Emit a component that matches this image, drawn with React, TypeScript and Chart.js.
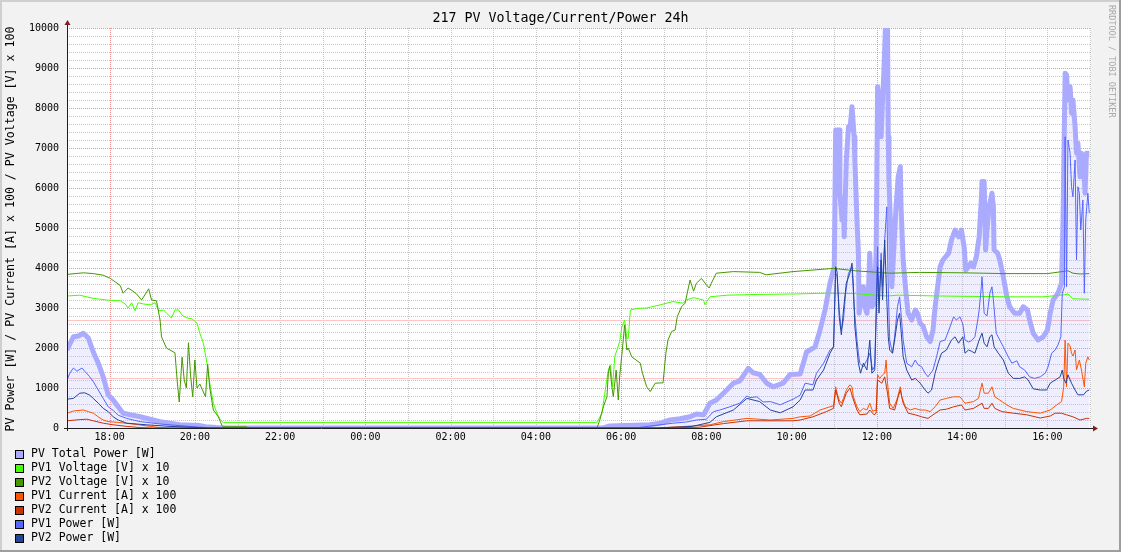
import { useEffect, useRef } from "react";
import { Chart, registerables } from "chart.js";

Chart.register(...registerables);

// ---------------- text ----------------
const TITLE = "217 PV Voltage/Current/Power 24h";
const Y_TITLE = "PV Power [W] / PV Current [A] x 100 / PV Voltage [V] x 100";
const WATERMARK = "RRDTOOL / TOBI OETIKER";

// ---------------- axes ----------------
const X_START_HOUR = 17; // 24h window 17:00 -> 17:00
const X_END_HOUR = 41;
const X_MAJOR_EVERY = 6;
const Y_MIN = 0;
const Y_MAX = 10000;
const Y_MINOR_STEP = 200;
const Y_MAJOR_STEP = 1000;
const HRULES = [2700, 1250];

// ---------------- data (clock time, value) ----------------
const pvTotalPower: [string, number][] = [
  ["17:00", 1950], ["17:04", 2100], ["17:09", 2280], ["17:16", 2300], ["17:23", 2370], ["17:30", 2250],
  ["17:37", 1900], ["17:44", 1620], ["17:51", 1280], ["17:58", 830], ["18:05", 700], ["18:12", 530],
  ["18:19", 370], ["18:29", 330], ["18:43", 280], ["18:57", 220], ["19:11", 160], ["19:25", 120],
  ["19:39", 80], ["20:07", 60], ["20:15", 30], ["20:30", 10], ["20:45", 0],
  ["05:35", 0], ["05:44", 50], ["06:40", 80], ["06:55", 120], ["07:09", 200], ["07:23", 230], ["07:37", 280],
  ["07:46", 350], ["07:56", 330], ["08:05", 620], ["08:14", 700], ["08:24", 870], ["08:38", 1120],
  ["08:47", 1180], ["08:59", 1490], ["09:06", 1380], ["09:15", 1340], ["09:25", 1120], ["09:34", 1030],
  ["09:48", 1120], ["09:58", 1340], ["10:12", 1350], ["10:21", 1900], ["10:33", 2030], ["10:40", 2450],
  ["10:47", 2950], ["10:54", 3620], ["11:00", 4030], ["11:02", 7450], ["11:07", 7450], ["11:08", 5870],
  ["11:11", 5200], ["11:13", 5700], ["11:14", 4780], ["11:17", 6700], ["11:20", 7530], ["11:22", 7450],
  ["11:25", 8030], ["11:26", 8030], ["11:28", 7280], ["11:29", 6700], ["11:32", 5200], ["11:34", 4370],
  ["11:35", 2870], ["11:38", 3280], ["11:41", 3530], ["11:43", 3030], ["11:46", 2870], ["11:48", 3370],
  ["11:50", 4370], ["11:53", 3030], ["11:56", 3100], ["11:59", 4370], ["12:01", 8530], ["12:03", 8200],
  ["12:06", 7280], ["12:08", 8200], ["12:10", 8950], ["12:12", 10000], ["12:15", 10000], ["12:16", 7280],
  ["12:17", 6200], ["12:19", 5200], ["12:21", 3530], ["12:23", 4200], ["12:27", 5530], ["12:30", 6280],
  ["12:33", 6530], ["12:34", 5530], ["12:37", 4200], ["12:41", 3370], ["12:44", 2870], ["12:49", 2700],
  ["12:54", 2950], ["12:57", 2870], ["13:01", 2620], ["13:05", 2550], ["13:10", 2280], ["13:15", 2160],
  ["13:19", 2450], ["13:22", 3030], ["13:29", 4030], ["13:33", 4200], ["13:41", 4370], ["13:45", 4700],
  ["13:50", 4950], ["13:55", 4780], ["13:59", 4950], ["14:03", 4500], ["14:05", 3950], ["14:09", 4030],
  ["14:12", 4120], ["14:16", 4030], ["14:20", 4280], ["14:24", 4780], ["14:27", 5700], ["14:28", 6160],
  ["14:31", 6160], ["14:33", 4450], ["14:35", 4950], ["14:38", 5530], ["14:42", 5870], ["14:44", 5530],
  ["14:45", 4450], ["14:50", 4370], ["14:53", 4200], ["14:58", 3780], ["15:03", 3280], ["15:07", 3030],
  ["15:14", 2870], ["15:21", 2870], ["15:26", 3030], ["15:32", 2950], ["15:35", 2700], ["15:40", 2370],
  ["15:47", 2200], ["15:54", 2280], ["16:00", 2450], ["16:04", 2870], ["16:08", 3200], ["16:15", 3370],
  ["16:20", 3620], ["16:22", 5200], ["16:25", 8870], ["16:27", 8830], ["16:29", 8200], ["16:32", 8530],
  ["16:34", 7870], ["16:36", 8200], ["16:39", 7530], ["16:41", 6870], ["16:43", 7120], ["16:46", 6280],
  ["16:48", 6870], ["16:51", 6700], ["16:53", 5870], ["16:55", 6870], ["16:59", 6870],
];

const pv1Voltage: [string, number][] = [
  ["17:00", 3300], ["17:18", 3320], ["17:37", 3240], ["17:56", 3200], ["18:15", 3180], ["18:22", 3100],
  ["18:26", 3000], ["18:31", 3130], ["18:36", 2930], ["18:40", 3130], ["18:48", 3100], ["18:57", 3080],
  ["19:04", 3130], ["19:09", 2930], ["19:16", 2950], ["19:20", 2870], ["19:27", 2750], ["19:32", 2950],
  ["19:37", 2950], ["19:42", 2820], ["19:49", 2750], ["19:56", 2730], ["20:03", 2620], ["20:07", 2370],
  ["20:12", 2120], ["20:17", 1620], ["20:21", 1120], ["20:26", 620], ["20:31", 370], ["20:36", 200],
  ["20:40", 140], ["05:26", 140], ["05:33", 370], ["05:37", 870], ["05:42", 1450], ["05:45", 1580],
  ["05:48", 1030], ["05:51", 1780], ["05:58", 2160], ["06:01", 2530], ["06:05", 2700], ["06:08", 2240],
  ["06:10", 2240], ["06:13", 2950], ["06:22", 2990], ["06:36", 3000], ["06:55", 3080], ["07:13", 3160],
  ["07:27", 3120], ["07:32", 3200], ["07:42", 3260], ["07:56", 3200], ["07:58", 3080], ["08:05", 3280],
  ["08:29", 3320], ["09:15", 3340], ["10:02", 3350], ["10:49", 3370], ["11:30", 3360], ["12:14", 3300],
  ["12:30", 3320], ["13:29", 3300], ["14:16", 3290], ["15:05", 3280], ["15:54", 3280], ["16:24", 3330],
  ["16:29", 3350], ["16:36", 3230], ["16:59", 3220],
];

const pv2Voltage: [string, number][] = [
  ["17:00", 3840], ["17:23", 3880], ["17:37", 3860], ["17:51", 3820], ["18:01", 3740], ["18:08", 3650],
  ["18:15", 3560], ["18:19", 3370], ["18:26", 3500], ["18:33", 3420], ["18:38", 3350], ["18:45", 3200],
  ["18:55", 3480], ["18:59", 3200], ["19:06", 3180], ["19:11", 2700], ["19:13", 2280], ["19:20", 2000],
  ["19:32", 1880], ["19:35", 1200], ["19:38", 650], ["19:42", 1770], ["19:45", 1200], ["19:48", 1000],
  ["19:51", 2130], ["19:54", 1300], ["19:57", 780], ["20:00", 1700], ["20:03", 1000], ["20:07", 1100],
  ["20:12", 900], ["20:15", 780], ["20:18", 1600], ["20:21", 1000], ["20:26", 450], ["20:33", 280],
  ["20:38", 70], ["20:40", 30], ["21:13", 30], ["21:14", 0],
  ["05:26", 0], ["05:30", 200], ["05:35", 530], ["05:40", 780], ["05:42", 1370], ["05:44", 1550],
  ["05:47", 1030], ["05:49", 780], ["05:53", 1450], ["05:56", 700], ["05:58", 1300], ["06:01", 1830],
  ["06:05", 2580], ["06:08", 1950], ["06:10", 2000], ["06:15", 1780], ["06:27", 1620], ["06:30", 1370],
  ["06:36", 1030], ["06:41", 910], ["06:48", 1120], ["06:59", 1130], ["07:03", 1870], ["07:06", 2200],
  ["07:11", 2410], ["07:16", 2450], ["07:19", 2780], ["07:25", 3030], ["07:30", 3120], ["07:34", 3450],
  ["07:37", 3700], ["07:42", 3420], ["07:46", 3620], ["07:53", 3740], ["08:00", 3580], ["08:04", 3500],
  ["08:07", 3620], ["08:14", 3870], ["08:38", 3910], ["09:15", 3890], ["09:24", 3830], ["10:02", 3910],
  ["10:59", 3990], ["11:30", 3930], ["12:18", 3870], ["13:00", 3890], ["14:00", 3880], ["15:00", 3860],
  ["16:00", 3860], ["16:29", 3930], ["16:36", 3870], ["16:46", 3850], ["16:59", 3860],
];

const pv1Current: [string, number][] = [
  ["17:00", 370], ["17:09", 425], ["17:23", 450], ["17:30", 410], ["17:37", 370], ["17:44", 280],
  ["17:51", 200], ["17:58", 160], ["18:12", 140], ["18:33", 100], ["18:57", 40], ["19:11", 10], ["19:30", 0],
  ["06:50", 0], ["07:30", 40], ["08:05", 80], ["08:24", 160], ["08:57", 240], ["09:30", 200], ["10:02", 240],
  ["10:12", 280], ["10:26", 300], ["10:40", 450], ["10:54", 530], ["10:59", 560], ["11:02", 1030],
  ["11:04", 870], ["11:07", 700], ["11:10", 620], ["11:13", 740], ["11:17", 950], ["11:22", 1080],
  ["11:25", 1030], ["11:27", 780], ["11:32", 530], ["11:36", 410], ["11:41", 490], ["11:46", 450],
  ["11:50", 620], ["11:54", 420], ["11:59", 450], ["12:01", 1330], ["12:04", 1240], ["12:08", 1330],
  ["12:11", 1370], ["12:13", 1700], ["12:15", 1120], ["12:18", 620], ["12:23", 490], ["12:28", 700],
  ["12:33", 1030], ["12:35", 780], ["12:40", 530], ["12:47", 450], ["12:54", 490], ["13:01", 450],
  ["13:08", 450], ["13:15", 410], ["13:22", 530], ["13:29", 700], ["13:38", 740], ["13:48", 780],
  ["13:57", 780], ["14:04", 620], ["14:16", 660], ["14:23", 740], ["14:28", 1120], ["14:31", 870],
  ["14:37", 870], ["14:42", 1030], ["14:46", 780], ["14:53", 700], ["15:03", 575], ["15:12", 490],
  ["15:31", 410], ["15:50", 370], ["16:04", 450], ["16:13", 575], ["16:20", 660], ["16:23", 1030],
  ["16:25", 2200], ["16:27", 1030], ["16:29", 2120], ["16:32", 2050], ["16:34", 1870], ["16:36", 1800],
  ["16:39", 1950], ["16:41", 1450], ["16:45", 1700], ["16:48", 1450], ["16:52", 1030], ["16:54", 1620],
  ["16:57", 1780], ["16:59", 1700],
];

const pv2Current: [string, number][] = [
  ["17:00", 180], ["17:18", 210], ["17:28", 220], ["17:37", 180], ["17:51", 120], ["18:05", 80],
  ["18:24", 40], ["18:43", 10], ["19:00", 0],
  ["07:00", 0], ["07:50", 20], ["08:24", 110], ["08:57", 180], ["10:02", 180], ["10:12", 200], ["10:30", 280],
  ["10:49", 410], ["10:59", 490], ["11:02", 950], ["11:07", 620], ["11:10", 530], ["11:17", 870],
  ["11:22", 1000], ["11:27", 700], ["11:32", 450], ["11:36", 330], ["11:46", 350], ["11:50", 450],
  ["11:56", 330], ["11:59", 370], ["12:01", 1200], ["12:07", 1120], ["12:11", 1280], ["12:15", 870],
  ["12:18", 490], ["12:25", 450], ["12:30", 780], ["12:33", 950], ["12:37", 620], ["12:44", 370],
  ["12:54", 330], ["13:03", 280], ["13:12", 240], ["13:19", 330], ["13:29", 450], ["13:38", 470],
  ["13:48", 530], ["13:59", 575], ["14:04", 450], ["14:16", 490], ["14:28", 620], ["14:31", 490],
  ["14:37", 490], ["14:42", 620], ["14:46", 490], ["14:56", 410], ["15:12", 370], ["15:31", 330],
  ["15:50", 250], ["16:04", 300], ["16:11", 370], ["16:20", 370], ["16:27", 330], ["16:36", 280],
  ["16:46", 200], ["16:55", 240], ["16:59", 240],
];

const pv1Power: [string, number][] = [
  ["17:00", 1200], ["17:04", 1370], ["17:09", 1500], ["17:14", 1420], ["17:21", 1500], ["17:25", 1420],
  ["17:32", 1280], ["17:37", 1160], ["17:44", 950], ["17:51", 740], ["17:58", 530], ["18:05", 440],
  ["18:12", 320], ["18:24", 240], ["18:43", 160], ["19:11", 100], ["19:39", 60], ["20:07", 20], ["20:30", 0],
  ["06:20", 0], ["06:55", 80], ["07:13", 120], ["07:32", 150], ["07:46", 200], ["08:00", 220], ["08:10", 410],
  ["08:19", 450], ["08:33", 530], ["08:47", 620], ["08:57", 800], ["09:01", 760], ["09:11", 780],
  ["09:20", 650], ["09:30", 660], ["09:44", 580], ["10:02", 720], ["10:12", 820], ["10:19", 1120],
  ["10:30", 1080], ["10:35", 1370], ["10:45", 1620], ["10:54", 1950], ["10:59", 2030], ["11:02", 3870],
  ["11:04", 3800], ["11:07", 2950], ["11:10", 2450], ["11:13", 2700], ["11:16", 3370], ["11:20", 3870],
  ["11:23", 3950], ["11:25", 4030], ["11:28", 3030], ["11:32", 2200], ["11:34", 1870], ["11:36", 1620],
  ["11:41", 1530], ["11:46", 1700], ["11:50", 1870], ["11:54", 1450], ["11:57", 1550], ["12:01", 4530],
  ["12:03", 3200], ["12:06", 4370], ["12:08", 3530], ["12:11", 4700], ["12:14", 5530], ["12:16", 3530],
  ["12:18", 2200], ["12:22", 1870], ["12:25", 2280], ["12:29", 3030], ["12:32", 3280], ["12:34", 2870],
  ["12:37", 2200], ["12:42", 1620], ["12:49", 1530], ["12:54", 1700], ["12:58", 1580], ["13:03", 1530],
  ["13:08", 1370], ["13:12", 1280], ["13:19", 1450], ["13:24", 1780], ["13:29", 2160], ["13:36", 2200],
  ["13:43", 2530], ["13:48", 2780], ["13:52", 2700], ["13:57", 2780], ["14:01", 2600], ["14:04", 2200],
  ["14:09", 2150], ["14:13", 2180], ["14:18", 2280], ["14:22", 2700], ["14:24", 2950], ["14:27", 3530],
  ["14:28", 3780], ["14:31", 2870], ["14:35", 2800], ["14:39", 3370], ["14:42", 3530], ["14:44", 3200],
  ["14:48", 2370], ["14:53", 2200], ["14:58", 2030], ["15:05", 1780], ["15:10", 1620], ["15:17", 1680],
  ["15:21", 1530], ["15:28", 1450], ["15:35", 1280], ["15:42", 1240], ["15:50", 1280], ["15:57", 1370],
  ["16:01", 1530], ["16:06", 1870], ["16:11", 1950], ["16:15", 2080], ["16:19", 2280], ["16:21", 3370],
  ["16:24", 3530], ["16:25", 7280], ["16:27", 3530], ["16:29", 7200], ["16:32", 6870], ["16:34", 6030],
  ["16:36", 5780], ["16:39", 6700], ["16:41", 4200], ["16:43", 6030], ["16:45", 5870], ["16:47", 4950],
  ["16:50", 5700], ["16:52", 3370], ["16:54", 5200], ["16:57", 5870], ["16:59", 5370],
];

const pv2Power: [string, number][] = [
  ["17:00", 720], ["17:09", 740], ["17:18", 870], ["17:25", 880], ["17:32", 820], ["17:37", 740],
  ["17:44", 620], ["17:51", 490], ["17:58", 410], ["18:05", 280], ["18:12", 200], ["18:24", 120],
  ["18:52", 80], ["19:25", 40], ["20:07", 10], ["20:20", 0],
  ["06:50", 0], ["07:40", 40], ["08:05", 140], ["08:14", 280], ["08:38", 450], ["08:57", 740], ["09:15", 660],
  ["09:30", 450], ["09:44", 380], ["10:02", 530], ["10:12", 700], ["10:19", 950], ["10:30", 950],
  ["10:35", 1200], ["10:45", 1450], ["10:54", 1870], ["10:59", 2030], ["11:02", 4030], ["11:04", 3900],
  ["11:07", 2780], ["11:10", 2330], ["11:13", 2950], ["11:17", 3620], ["11:22", 3870], ["11:25", 4120],
  ["11:27", 3530], ["11:29", 2530], ["11:34", 1620], ["11:37", 1370], ["11:41", 1620], ["11:46", 1450],
  ["11:50", 2200], ["11:53", 1370], ["11:57", 1450], ["12:01", 4030], ["12:03", 2870], ["12:06", 4200],
  ["12:08", 3200], ["12:11", 4700], ["12:14", 3200], ["12:16", 2280], ["12:18", 1950], ["12:22", 1870],
  ["12:25", 2200], ["12:29", 2700], ["12:32", 2870], ["12:34", 2450], ["12:37", 1780], ["12:42", 1450],
  ["12:49", 1200], ["12:54", 1240], ["13:01", 1120], ["13:08", 950], ["13:12", 870], ["13:17", 950],
  ["13:22", 1370], ["13:26", 1620], ["13:31", 1870], ["13:38", 1950], ["13:45", 2200], ["13:50", 2280],
  ["13:55", 2120], ["14:01", 2280], ["14:04", 1870], ["14:09", 1950], ["14:13", 1920], ["14:18", 1870],
  ["14:24", 2200], ["14:28", 2370], ["14:31", 2120], ["14:35", 2030], ["14:39", 2280], ["14:42", 2330],
  ["14:45", 2030], ["14:51", 1870], ["14:58", 1700], ["15:05", 1370], ["15:12", 1240], ["15:21", 1240],
  ["15:28", 1280], ["15:33", 1200], ["15:40", 980], ["15:50", 950], ["15:59", 950], ["16:04", 1120],
  ["16:11", 1200], ["16:18", 1280], ["16:21", 1450], ["16:23", 1240], ["16:26", 1120], ["16:29", 1330],
  ["16:34", 1120], ["16:39", 950], ["16:43", 830], ["16:51", 830], ["16:55", 920], ["16:59", 950],
];

// ---------------- series (labels + style) ----------------
const SERIES = [
  { label: "PV Total Power [W]", data: pvTotalPower, color: "#AAAAFF", width: 5, fill: "rgba(170,170,255,0.2)" },
  { label: "PV1 Voltage [V] x 10", data: pv1Voltage, color: "#44FF00", width: 1 },
  { label: "PV2 Voltage [V] x 10", data: pv2Voltage, color: "#449900", width: 1 },
  { label: "PV1 Current [A] x 100", data: pv1Current, color: "#FF5500", width: 1 },
  { label: "PV2 Current [A] x 100", data: pv2Current, color: "#CC3300", width: 1 },
  { label: "PV1 Power [W]", data: pv1Power, color: "#5566FF", width: 1 },
  { label: "PV2 Power [W]", data: pv2Power, color: "#224499", width: 1 },
];

const MONO = "'DejaVu Sans Mono', monospace";
const COL_BACK = "#F2F2F2";
const COL_CANVAS = "#FFFFFF";
const COL_SHADEA = "#CFCFCF";
const COL_SHADEB = "#9E9E9E";
const COL_GRID = "rgba(143,143,143,0.5)";
const COL_MGRID = "rgba(222,79,79,0.6)";
const COL_ARROW = "#801F1F";
const COL_AXIS = "#1F1F1F";
const COL_HRULE = "#FFC4C4";

const toHours = (t: string) => {
  const [h, m] = t.split(":").map(Number);
  let v = h + m / 60;
  if (v < X_START_HOUR) v += 24;
  return v;
};

const pad2 = (n: number) => (n < 10 ? "0" + n : "" + n);

const decorPlugin = {
  id: "rrdDecor",
  beforeDraw(chart: any) {
    const { ctx, width, height, chartArea } = chart;
    ctx.save();
    ctx.fillStyle = COL_BACK;
    ctx.fillRect(0, 0, width, height);
    ctx.fillStyle = COL_SHADEA;
    ctx.fillRect(0, 0, width, 2);
    ctx.fillRect(0, 0, 2, height);
    ctx.fillStyle = COL_SHADEB;
    ctx.fillRect(0, height - 2, width, 2);
    ctx.fillRect(width - 2, 0, 2, height);
    ctx.fillStyle = COL_CANVAS;
    ctx.fillRect(chartArea.left, chartArea.top, chartArea.right - chartArea.left + 1, chartArea.bottom - chartArea.top);
    ctx.restore();
  },
  beforeDatasetsDraw(chart: any) {
    const { ctx, chartArea, scales } = chart;
    const { left, right, top, bottom } = chartArea;
    const xs = scales.x;
    const ys = scales.y;
    ctx.save();
    ctx.lineWidth = 1;
    ctx.setLineDash([1, 1]);
    [false, true].forEach((major) => {
      ys.ticks.forEach((t: any) => {
        const isMajor = t.value % Y_MAJOR_STEP === 0;
        if (isMajor !== major || t.value === Y_MIN) return;
        const py = Math.round(ys.getPixelForValue(t.value)) + 0.5;
        ctx.strokeStyle = isMajor ? COL_MGRID : COL_GRID;
        ctx.beginPath();
        ctx.moveTo(left, py);
        ctx.lineTo(right, py);
        ctx.stroke();
      });
      xs.ticks.forEach((t: any) => {
        const isMajor = t.value % X_MAJOR_EVERY === 0;
        if (isMajor !== major || t.value === X_START_HOUR) return;
        const px = Math.round(xs.getPixelForValue(t.value)) + 0.5;
        ctx.strokeStyle = isMajor ? COL_MGRID : COL_GRID;
        ctx.beginPath();
        ctx.moveTo(px, top);
        ctx.lineTo(px, bottom);
        ctx.stroke();
      });
    });
    ctx.setLineDash([]);
    ctx.strokeStyle = COL_HRULE;
    HRULES.forEach((v) => {
      const py = Math.round(ys.getPixelForValue(v)) + 0.5;
      ctx.beginPath();
      ctx.moveTo(left, py);
      ctx.lineTo(right, py);
      ctx.stroke();
    });
    ctx.restore();
  },
  afterDraw(chart: any) {
    const { ctx, width, chartArea } = chart;
    const { left, right, top, bottom } = chartArea;
    ctx.save();
    ctx.strokeStyle = COL_AXIS;
    ctx.lineWidth = 1;
    ctx.beginPath();
    ctx.moveTo(left - 3, bottom + 0.5);
    ctx.lineTo(right + 4, bottom + 0.5);
    ctx.moveTo(left + 0.5, bottom + 3);
    ctx.lineTo(left + 0.5, top - 4);
    ctx.stroke();
    ctx.fillStyle = COL_ARROW;
    ctx.beginPath();
    ctx.moveTo(right + 3, bottom - 2.5);
    ctx.lineTo(right + 3, bottom + 3.5);
    ctx.lineTo(right + 8, bottom + 0.5);
    ctx.closePath();
    ctx.fill();
    ctx.beginPath();
    ctx.moveTo(left - 2.5, top - 3);
    ctx.lineTo(left + 3.5, top - 3);
    ctx.lineTo(left + 0.5, top - 8);
    ctx.closePath();
    ctx.fill();

    ctx.fillStyle = "#000";
    ctx.font = `13.3px ${MONO}`;
    ctx.textAlign = "center";
    ctx.textBaseline = "middle";
    ctx.fillText(TITLE, width / 2, 19);

    ctx.save();
    ctx.font = `11.6px ${MONO}`;
    ctx.translate(11, (top + bottom) / 2 + 1);
    ctx.rotate(-Math.PI / 2);
    ctx.fillText(Y_TITLE, 0, 0);
    ctx.restore();

    ctx.save();
    ctx.font = `8.5px ${MONO}`;
    ctx.fillStyle = "#A8A8A8";
    ctx.translate(width - 10, 5);
    ctx.rotate(Math.PI / 2);
    ctx.textAlign = "left";
    ctx.fillText(WATERMARK, 0, 0);
    ctx.restore();

    ctx.font = `11.5px ${MONO}`;
    ctx.textAlign = "left";
    ctx.textBaseline = "middle";
    SERIES.forEach((s, i) => {
      const cy = 454 + i * 14;
      ctx.fillStyle = s.color;
      ctx.fillRect(15, cy - 4, 9, 9);
      ctx.strokeStyle = "#000";
      ctx.lineWidth = 1;
      ctx.strokeRect(15.5, cy - 3.5, 8, 8);
      ctx.fillStyle = "#000";
      ctx.fillText(s.label, 31, cy + 0.5);
    });
    ctx.restore();
  },
};

export default function App() {
  const ref = useRef<HTMLCanvasElement | null>(null);

  useEffect(() => {
    document.body.style.margin = "0";
    const canvas = ref.current;
    if (!canvas) return;

    const datasets: any[] = SERIES.map((s, i) => ({
      label: s.label,
      data: s.data.map(([t, v]) => ({ x: toHours(t), y: v })),
      borderColor: s.color,
      backgroundColor: s.fill || s.color,
      borderWidth: s.width,
      fill: s.fill ? "origin" : false,
      pointRadius: 0,
      tension: 0,
      borderJoinStyle: "round",
      order: 10 - i,
    }));

    const chart = new Chart(canvas, {
      type: "line",
      data: { datasets },
      plugins: [decorPlugin],
      options: {
        responsive: false,
        animation: false,
        devicePixelRatio: 1,
        events: [],
        layout: { padding: { left: 0, top: 28, right: 31, bottom: 0 } },
        plugins: {
          legend: { display: false },
          tooltip: { enabled: false },
          title: { display: false },
        },
        scales: {
          x: {
            type: "linear",
            min: X_START_HOUR,
            max: X_END_HOUR,
            afterFit: (s: any) => {
              s.height = 124;
            },
            border: { display: false },
            grid: { display: false, drawTicks: false, tickLength: 0 },
            ticks: {
              stepSize: 1,
              autoSkip: false,
              maxRotation: 0,
              padding: 3,
              color: "#000",
              font: { family: MONO, size: 10 },
              callback: (v: any) => {
                const h = Math.round(Number(v)) % 24;
                return h % 2 === 0 ? pad2(h) + ":00" : "";
              },
            },
          },
          y: {
            type: "linear",
            min: Y_MIN,
            max: Y_MAX,
            afterFit: (s: any) => {
              s.width = 67;
            },
            border: { display: false },
            grid: { display: false, drawTicks: false, tickLength: 0 },
            ticks: {
              stepSize: Y_MINOR_STEP,
              autoSkip: false,
              padding: 8,
              color: "#000",
              font: { family: MONO, size: 10 },
              callback: (v: any) => (Number(v) % Y_MAJOR_STEP === 0 ? String(v) : ""),
            },
          },
        },
      } as any,
    });

    return () => chart.destroy();
  }, []);

  return (
    <div style={{ position: "absolute", left: 0, top: 0, width: 1121, height: 552 }}>
      <canvas ref={ref} width={1121} height={552} style={{ display: "block", width: 1121, height: 552 }} />
    </div>
  );
}
